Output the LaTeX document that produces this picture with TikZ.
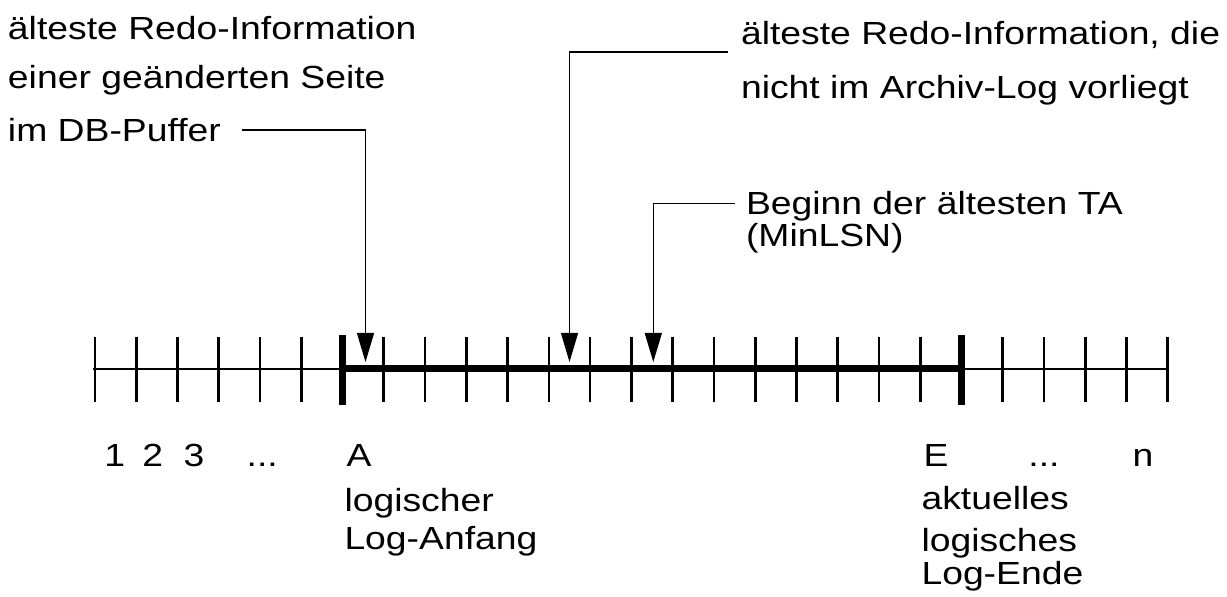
\documentclass[tikz,border=0pt]{standalone}
\usepackage{fontspec}
\setmainfont{Liberation Sans}[FakeStretch=1.166]
\usetikzlibrary{arrows.meta}
\begin{document}
\begin{tikzpicture}[x=0.5pt,y=-0.5pt,
  lbl/.style={inner sep=0pt,outer sep=0pt,anchor=base west,align=left,font=\fontsize{16}{16}\selectfont},
  conn/.style={line width=0.65pt,-{Triangle[width=8.5pt,length=14.5pt]}},
  thinaxis/.style={line width=1.15pt},
  thickaxis/.style={line width=3.5pt},
  tickmark/.style={line width=1.35pt},
  bigtick/.style={line width=3.5pt}]
\useasboundingbox (0,0) rectangle (1227,597);
% texts (anchored at the baseline of their last line)
\node[lbl] (t1) at (8,141.7) {älteste Redo-Information\\[8.5pt] einer geänderten Seite\\[10.7pt] im DB-Puffer};
\node[lbl] (t2) at (741,98.3) {älteste Redo-Information, die\\[10.65pt] nicht im Archiv-Log vorliegt};
\node[lbl] (t3) at (746,246.7) {Beginn der ältesten TA\\ (MinLSN)};
\node[lbl] (n1) at (104.3,466.7) {1};
\node[lbl] (n2) at (142.3,466.7) {2};
\node[lbl] (n3) at (183.5,466.7) {3};
\node[lbl] (dl) at (246.7,466.7) {...};
\node[lbl] (lA) at (346.7,466.7) {A};
\node[lbl] (tA) at (344.5,550) {logischer\\[3.15pt] Log-Anfang};
\node[lbl] (lE) at (923.7,466.7) {E};
\node[lbl] (dr) at (1028.4,466.7) {...};
\node[lbl] (ln) at (1132.5,466.7) {n};
\node[lbl] (tE) at (921.5,585) {aktuelles\\[5.2pt] logisches\\[0.65pt] Log-Ende};
% axis
\coordinate (ax0) at (93,368.7);
\coordinate (axA) at (342.6,368.7);
\coordinate (axE) at (961.4,368.7);
\coordinate (axn) at (1167.7,368.7);
\draw[thinaxis] (ax0) -- (axA);
\draw[thickaxis] (axA) -- (axE);
\draw[thinaxis] (axE) -- (axn);
\foreach \k in {0,...,5,7,8,...,20,22,23,...,26}
  \draw[tickmark] ({95+41.26*\k},337.3) -- ({95+41.26*\k},401.7);
\foreach \k in {6,21}
  \draw[bigtick] ({95+41.26*\k},335) -- ({95+41.26*\k},405);
% connectors
\coordinate (s1) at (241.7,130);
\coordinate (b1) at (365.5,130);
\coordinate (e1) at (365.5,362);
\coordinate (s2) at (728,52);
\coordinate (b2) at (569.5,52);
\coordinate (e2) at (569.5,362);
\coordinate (s3) at (735,203.5);
\coordinate (b3) at (653.3,203.5);
\coordinate (e3) at (653.3,362);
\draw[conn] (s1) -- (b1) -- (e1);
\draw[conn] (s2) -- (b2) -- (e2);
\draw[conn] (s3) -- (b3) -- (e3);
\end{tikzpicture}
\end{document}
